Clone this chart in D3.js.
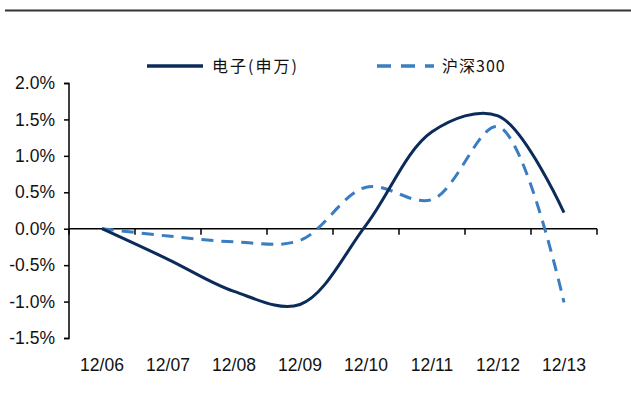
<!DOCTYPE html>
<html>
<head>
<meta charset="utf-8">
<script src="https://cdn.jsdelivr.net/npm/d3@7/dist/d3.min.js"></script>
<style>
  html, body { margin: 0; padding: 0; background: #fff; }
  svg { display: block; }
  text { font-family: "Liberation Sans", Arial, sans-serif; fill: #111; }
  .cjk { font-family: "Noto Sans CJK SC", "Liberation Sans", sans-serif; }
</style>
</head>
<body>
<script>
// Trading days
const dates = ["12/06", "12/07", "12/08", "12/09", "12/10", "12/11", "12/12", "12/13"];
// Cumulative return, %
const electronics = [0.0, -0.42, -0.86, -1.04, 0.05, 1.33, 1.55, 0.22];
const hs300 = [0.0, -0.10, -0.18, -0.16, 0.57, 0.40, 1.40, -1.01];
const yTicks = [2.0, 1.5, 1.0, 0.5, 0.0, -0.5, -1.0, -1.5];
const seriesNames = ["电子(申万)", "沪深300"];

const W = 631, H = 405;
const svg = d3.select("body").append("svg").attr("width", W).attr("height", H);

// Header rule
svg.append("line").attr("x1", 5).attr("x2", W).attr("y1", 10.5).attr("y2", 10.5)
  .attr("stroke", "#333").attr("stroke-width", 2);

const x = d3.scaleBand().domain(dates).range([69, 597]).padding(0);
const y = d3.scaleLinear().domain([-1.5, 2.0]).range([338, 83]);

// Y axis
const yAxis = d3.axisLeft(y).tickValues(yTicks).tickSize(5).tickPadding(9)
  .tickFormat(d => d.toFixed(1) + "%");
const gy = svg.append("g").attr("transform", "translate(69,0)").call(yAxis);
gy.select(".domain").attr("stroke", "#000").attr("stroke-width", 1.5).attr("d", "M-5,83.5H0V338.5H-5");
gy.selectAll(".tick line").attr("stroke", "#000").attr("stroke-width", 1.5);
gy.selectAll(".tick text").style("font-size", "17.5px").attr("fill", "#111");

// X axis on the zero line, ticks at band edges
const gx = svg.append("g").attr("transform", `translate(0,${y(0)})`);
gx.append("line").attr("x1", 69).attr("x2", 597).attr("stroke", "#000").attr("stroke-width", 1.5);
const edges = dates.map(d => x(d)).concat([x(dates[dates.length - 1]) + x.bandwidth()]);
gx.selectAll(".tk").data(edges).join("line")
  .attr("x1", d => d).attr("x2", d => d).attr("y1", 0).attr("y2", 6)
  .attr("stroke", "#000").attr("stroke-width", 1.5);

// Category labels below the plot
svg.selectAll(".xl").data(dates).join("text")
  .attr("x", d => x(d) + x.bandwidth() / 2)
  .attr("y", 371)
  .attr("text-anchor", "middle")
  .style("font-size", "17.5px")
  .text(d => d);

const line = d3.line()
  .x((d, i) => x(dates[i]) + x.bandwidth() / 2)
  .y(d => y(d))
  .curve(d3.curveCatmullRom.alpha(0.5));

svg.append("path").datum(hs300).attr("d", line)
  .attr("fill", "none").attr("stroke", "#3a7dc0").attr("stroke-width", 3)
  .attr("stroke-dasharray", "12,8");

svg.append("path").datum(electronics).attr("d", line)
  .attr("fill", "none").attr("stroke", "#0b2b5a").attr("stroke-width", 3);

// Legend
const leg = svg.append("g");
leg.append("line").attr("x1", 147).attr("x2", 203).attr("y1", 66).attr("y2", 66)
  .attr("stroke", "#0b2b5a").attr("stroke-width", 3.5);
leg.append("text").attr("class", "cjk").attr("x", 212).attr("y", 72)
  .style("font-size", "16px").style("letter-spacing", "2px").text(seriesNames[0]);
leg.append("line").attr("x1", 377).attr("x2", 434).attr("y1", 66).attr("y2", 66)
  .attr("stroke", "#3a7dc0").attr("stroke-width", 3.5).attr("stroke-dasharray", "14,10");
leg.append("text").attr("class", "cjk").attr("x", 442).attr("y", 72)
  .style("font-size", "16px").style("letter-spacing", "1px").text(seriesNames[1]);
</script>
</body>
</html>
